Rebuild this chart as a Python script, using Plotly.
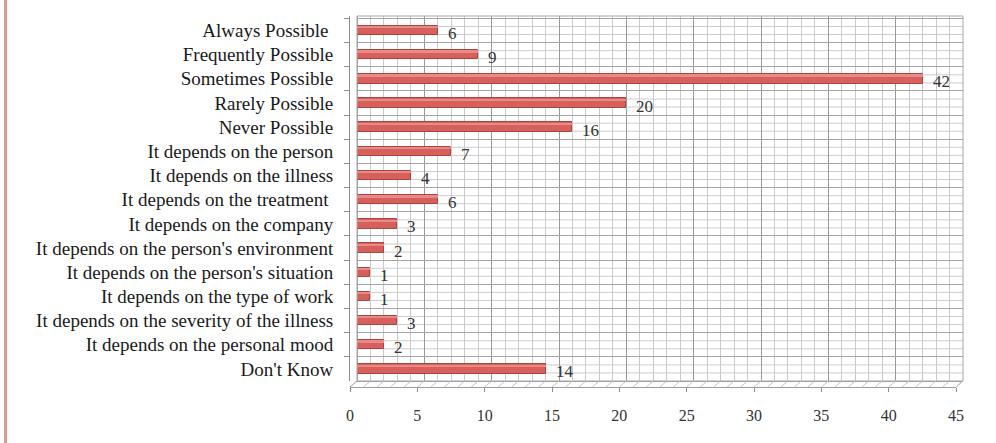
import plotly.graph_objects as go

categories = [
    "Always Possible\u00a0",
    "Frequently Possible",
    "Sometimes Possible",
    "Rarely Possible",
    "Never Possible",
    "It depends on the person",
    "It depends on the illness",
    "It depends on the treatment\u00a0",
    "It depends on the company",
    "It depends on the person's environment",
    "It depends on the person's situation",
    "It depends on the type of work",
    "It depends on the severity of the illness",
    "It depends on the personal mood",
    "Don't Know",
]
values = [6, 9, 42, 20, 16, 7, 4, 6, 3, 2, 1, 1, 3, 2, 14]
x_ticks = [0, 5, 10, 15, 20, 25, 30, 35, 40, 45]

W, H = 996, 443
ML, MR, MT, MB = 349, 33, 16, 56
PW = W - ML - MR
PH = H - MT - MB
SIDE = 8     # px depth horizontally
FLOOR = 6    # px depth vertically
SHIFT = 7

SERIF = "Liberation Serif, Times New Roman, serif"

fig = go.Figure()

# main bars
fig.add_trace(go.Bar(
    y=categories, x=values, orientation="h", width=0.39,
    marker=dict(color="#d6605b", line=dict(color="#a9443f", width=1)),
    hoverinfo="skip", showlegend=False,
))
# highlight strip for a rounded look
fig.add_trace(go.Bar(
    y=categories, x=values, orientation="h", width=0.07, offset=-0.16,
    marker=dict(color="#e88b86", line=dict(width=0)),
    hoverinfo="skip", showlegend=False,
))
# invisible trace to create the floor axis
fig.add_trace(go.Scatter(
    x=[0], y=[0], xaxis="x2", yaxis="y3", mode="markers",
    marker=dict(opacity=0), hoverinfo="skip", showlegend=False,
))

# value labels
for c, v in zip(categories, values):
    fig.add_annotation(
        x=v, y=c, xref="x", yref="y", text=str(v), showarrow=False,
        xanchor="left", yanchor="middle", xshift=8, yshift=-3,
        font=dict(family=SERIF, size=17, color="#333333"),
    )

shapes = []
n = len(categories)
# minor horizontal gridlines (thirds of a category)
for i in range(n):
    for f in (1 / 3, 2 / 3):
        y = i - 0.5 + f
        shapes.append(dict(type="line", xref="x domain", yref="y", x0=0, x1=1,
                           y0=y, y1=y, line=dict(color="#cdcdcd", width=1), layer="below"))
# wall border
shapes.append(dict(type="rect", xref="x domain", yref="y domain", x0=0, x1=1, y0=0, y1=1,
                   line=dict(color="#a8a8a8", width=1), layer="above"))
# floor sides
fy = FLOOR / PH
shapes.append(dict(type="line", xref="paper", yref="paper",
                   x0=SIDE / PW, y0=fy, x1=(SIDE - SHIFT) / PW, y1=0,
                   line=dict(color="#999999", width=1)))
shapes.append(dict(type="line", xref="paper", yref="paper",
                   x0=1, y0=fy, x1=1 - SHIFT / PW, y1=0,
                   line=dict(color="#999999", width=1)))
# floor small diagonals
unit_px = (PW - SIDE) / 45.0
for k in range(1, 46):
    shapes.append(dict(type="line", xref="x", yref="paper",
                       x0=k, y0=fy, x1=k - SHIFT / unit_px, y1=0,
                       line=dict(color="#c4c4c4", width=1)))
# pink left border
shapes.append(dict(type="rect", xref="paper", yref="paper",
                   x0=(4 - ML) / PW, x1=(7 - ML) / PW,
                   y0=-MB / PH, y1=(H - MB) / PH,
                   fillcolor="#d99a9a", line=dict(width=0)))

fig.update_layout(
    width=W, height=H,
    margin=dict(l=ML, r=MR, t=MT, b=MB, pad=0),
    paper_bgcolor="white", plot_bgcolor="rgba(0,0,0,0)",
    barmode="overlay", bargap=0,
    shapes=shapes,
    xaxis=dict(
        domain=[SIDE / PW, 1], range=[0, 45], anchor="y",
        showticklabels=False, ticks="",
        showgrid=True, dtick=5, gridcolor="#999999", gridwidth=1,
        zeroline=True, zerolinecolor="#999999", zerolinewidth=1,
        minor=dict(dtick=1, showgrid=True, gridcolor="#cacaca", gridwidth=1),
        showline=True, linecolor="#999999", linewidth=1, fixedrange=True,
    ),
    yaxis=dict(
        domain=[fy, 1], type="category", autorange="reversed",
        categoryorder="array", categoryarray=categories,
        anchor="free", position=0,
        tickson="boundaries", ticks="outside", ticklen=5, tickcolor="#8c8c8c",
        showgrid=True, gridcolor="#a4a4a4", gridwidth=1,
        showline=True, linecolor="#8c8c8c", linewidth=1,
        tickfont=dict(family=SERIF, size=19, color="#1a1a1a"),
        ticklabelstandoff=12, fixedrange=True,
    ),
    xaxis2=dict(
        domain=[(SIDE - SHIFT) / PW, 1 - SHIFT / PW], range=[0, 45],
        anchor="free", position=0,
        tickvals=x_ticks, ticktext=[str(t) for t in x_ticks],
        ticks="outside", ticklen=4, tickcolor="#8c8c8c",
        showgrid=False, zeroline=False,
        showline=True, linecolor="#9c9c9c", linewidth=1,
        tickfont=dict(family=SERIF, size=16, color="#333333"),
        ticklabelstandoff=10, fixedrange=True,
    ),
    yaxis3=dict(domain=[0, 1], range=[-1, 1], visible=False, fixedrange=True),
)

fig.write_html("out.html")
